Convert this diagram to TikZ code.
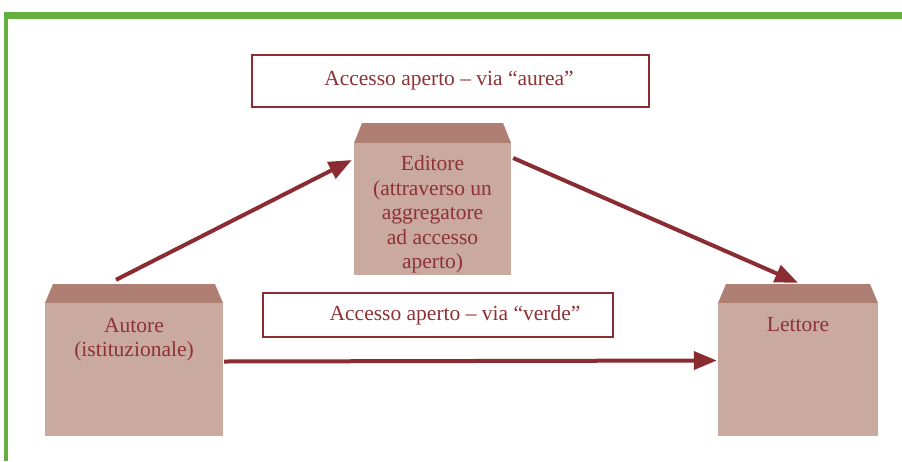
\documentclass[tikz,border=0pt]{standalone}
\usepackage{fontspec}
\setmainfont{Liberation Serif}
\usetikzlibrary{arrows.meta,calc}
\definecolor{frameGreen}{HTML}{66AF3F}
\definecolor{darkRed}{HTML}{8B2C33}
\definecolor{txtRed}{HTML}{8E3236}
\definecolor{boxBody}{HTML}{C9A9A0}
\definecolor{boxTop}{HTML}{B07F73}
\tikzset{
  body/.style={rectangle, fill=boxBody, draw=none, inner sep=0pt},
  boxtext/.style={text=txtRed, align=center, inner sep=0pt, font=\fontsize{21.5}{24.5}\selectfont},
  labelbox/.style={rectangle, draw=darkRed, line width=2.4pt, fill=white, inner sep=0pt},
  labeltext/.style={text=txtRed, inner sep=0pt, font=\fontsize{21.5}{24}\selectfont},
  flow/.style={draw=darkRed, line width=4pt, -{Triangle[length=23pt,width=18pt]}}
}
\begin{document}
\begin{tikzpicture}[x=1pt,y=-1pt]
\useasboundingbox (0,0) rectangle (902,461);
% green frame
\fill[frameGreen] (4,12) rectangle (902,19);
\fill[frameGreen] (4,12) rectangle (8,461);

% label boxes
\node[labelbox, minimum width=397pt, minimum height=52pt] (aureaBox) at (450.5,81) {};
\node[labeltext] (aureaTxt) at (449,81) {Accesso aperto -- via “aurea”};
\node[labelbox, minimum width=350pt, minimum height=44pt] (verdeBox) at (438,315) {};
\node[labeltext] (verdeTxt) at (455,315) {Accesso aperto -- via “verde”};

% Editore
\fill[boxTop] (362,123) -- (503,123) -- (511,143) -- (354,143) -- cycle;
\node[body, minimum width=157pt, minimum height=132pt] (edB) at (432.5,209) {};
\begin{scope}
\clip (354,143) rectangle (511,275);
\node[boxtext] (edTxt) at (432.5,214.5) {Editore\\(attraverso un\\aggregatore\\ad accesso\\aperto)};
\end{scope}

% Autore
\fill[boxTop] (53,284) -- (215,284) -- (223,303) -- (45,303) -- cycle;
\node[body, minimum width=178pt, minimum height=133pt] (autB) at (134,369.5) {};
\node[boxtext] (autTxt) at (134,339.5) {Autore\\(istituzionale)};

% Lettore
\fill[boxTop] (726,284) -- (870,284) -- (878,303) -- (718,303) -- cycle;
\node[body, minimum width=160pt, minimum height=133pt] (letB) at (798,369.5) {};
\node[boxtext] (letTxt) at (798,325) {Lettore};

% arrows
\draw[flow] ([xshift=-18pt,yshift=23pt]autB.north) -- ([xshift=-2pt,yshift=49pt]edB.west);
\draw[flow] ([xshift=2pt,yshift=51pt]edB.east) -- ([yshift=20pt]letB.north);
\draw[flow] ([xshift=1pt,yshift=8pt]autB.east) -- ([xshift=-1pt,yshift=9pt]letB.west);
\end{tikzpicture}
\end{document}
